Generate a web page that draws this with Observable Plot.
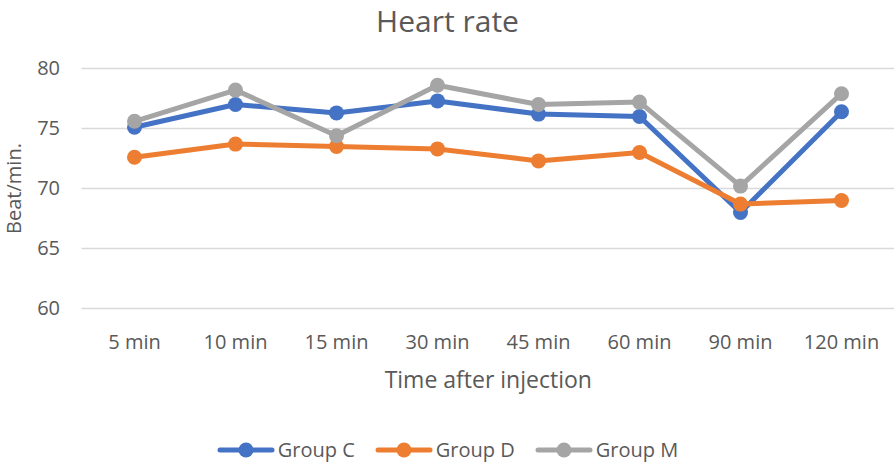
<!DOCTYPE html>
<html>
<head>
<meta charset="utf-8">
<script src="https://cdn.jsdelivr.net/npm/d3@7"></script>
<script src="https://cdn.jsdelivr.net/npm/@observablehq/plot@0.6"></script>
<style>
  html, body { margin: 0; padding: 0; background: #fff; }
  body { position: relative; width: 895px; height: 463px; overflow: hidden; font-family: "Open Sans", Lato, sans-serif; color: #595959; }
  #title { position: absolute; left: 0; top: 0; width: 895px; height: 41px; line-height: 41px; text-align: center; font-size: 30px; white-space: nowrap; }
  #chart { position: absolute; left: 0; top: 40px; }
  #chart svg { display: block; }
  #legend { position: absolute; left: 0; top: 436px; width: 895px; height: 27px; display: flex; justify-content: center; align-items: center; gap: 20px; font-size: 20px; line-height: 27px; }
  .item { display: flex; align-items: center; gap: 3px; }
</style>
</head>
<body>
<div id="title"></div>
<div id="chart"></div>
<div id="legend"></div>
<script>
const chartTitle = "Heart rate";
const xLabel = "Time after injection";
const yLabel = "Beat/min.";
const times = ["5 min", "10 min", "15 min", "30 min", "45 min", "60 min", "90 min", "120 min"];
const groups = ["Group C", "Group D", "Group M"];
const colors = ["#4472C4", "#ED7D31", "#A5A5A5"];
const groupC = [75.1, 77.0, 76.3, 77.3, 76.2, 76.0, 68.0, 76.4];
const groupD = [72.6, 73.7, 73.5, 73.3, 72.3, 73.0, 68.7, 69.0];
const groupM = [75.6, 78.2, 74.4, 78.6, 77.0, 77.2, 70.2, 77.9];
const yTicks = [60, 65, 70, 75, 80];

const series = [groupC, groupD, groupM];
const data = [];
groups.forEach((g, gi) => times.forEach((t, ti) => data.push({group: g, time: t, value: series[gi][ti]})));

document.getElementById("title").textContent = chartTitle;

const plot = Plot.plot({
  width: 895,
  height: 365,
  marginLeft: 81.5,
  marginRight: 1,
  marginTop: 28,
  marginBottom: 97,
  style: {fontFamily: "'Open Sans', Lato, sans-serif", color: "#595959", background: "#fff"},
  x: {type: "point", domain: times, padding: 0.5, label: null},
  y: {domain: [60, 80], label: null},
  color: {domain: groups, range: colors},
  marks: [
    Plot.ruleY(yTicks, {stroke: "#D9D9D9", strokeWidth: 1.5}),
    Plot.axisY({ticks: yTicks, tickSize: 0, tickPadding: 22, fontSize: 20, label: null}),
    Plot.axisX({tickSize: 0, tickPadding: 26, fontSize: 20, label: null}),
    Plot.text([xLabel], {frameAnchor: "bottom", text: d => d, dy: 72, lineAnchor: "middle", textAnchor: "middle", fontSize: 23, fill: "#595959"}),
    Plot.text([yLabel], {frameAnchor: "left", text: d => d, rotate: -90, dx: -67, lineAnchor: "middle", textAnchor: "middle", fontSize: 20, fill: "#595959"}),
    Plot.line(data, {x: "time", y: "value", z: "group", stroke: "group", strokeWidth: 5, strokeLinejoin: "round"}),
    Plot.dot(data, {x: "time", y: "value", fill: "group", r: 7.5, stroke: "none"})
  ]
});
document.getElementById("chart").appendChild(plot);

const legend = document.getElementById("legend");
groups.forEach((g, i) => {
  const item = document.createElement("div");
  item.className = "item";
  item.innerHTML = `<svg width="58" height="18"><line x1="3" x2="55" y1="9" y2="9" stroke="${colors[i]}" stroke-width="5" stroke-linecap="round"/><circle cx="29" cy="9" r="7.5" fill="${colors[i]}"/></svg><span>${g}</span>`;
  legend.appendChild(item);
});
</script>
</body>
</html>
